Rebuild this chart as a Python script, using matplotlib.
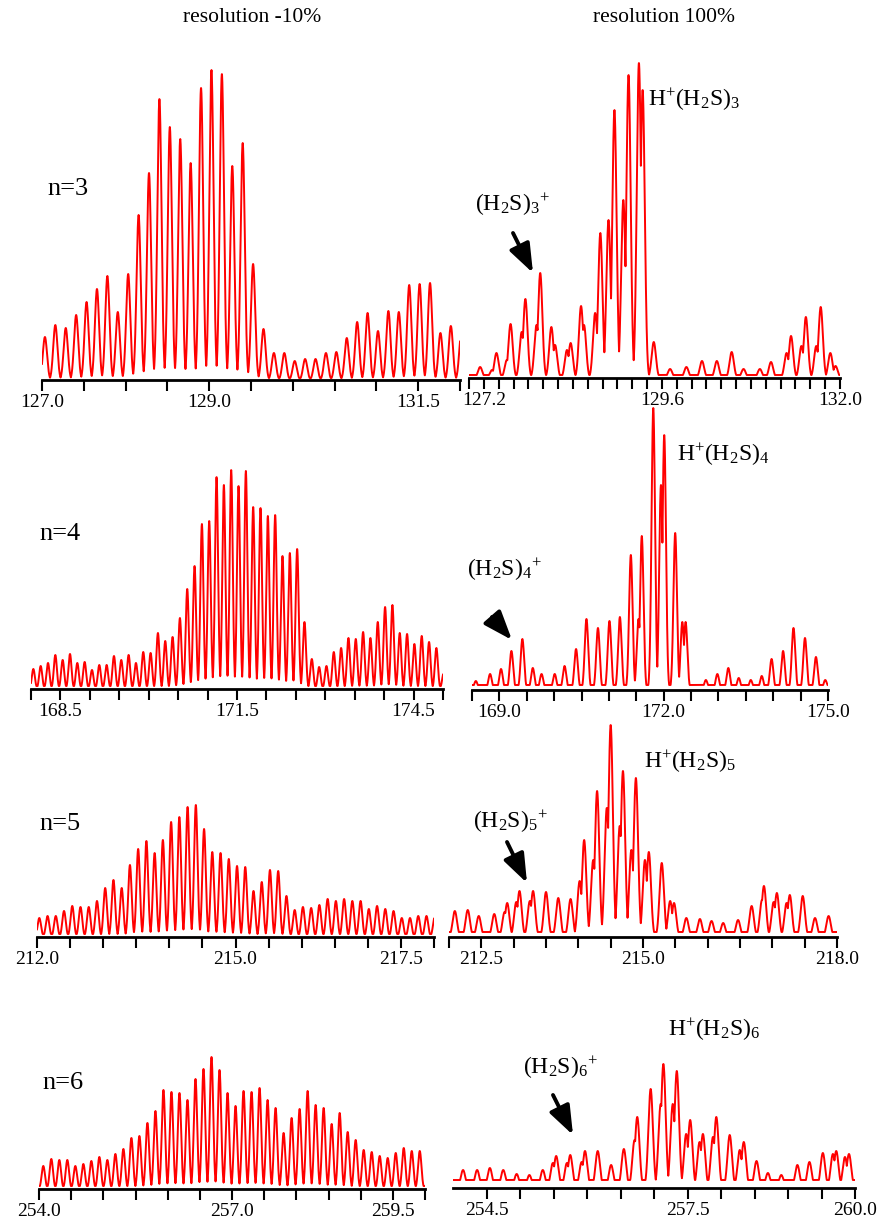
import matplotlib.pyplot as plt
from matplotlib.patches import FancyArrowPatch
import numpy as np

plt.rcParams['font.family'] = ['Liberation Serif', 'DejaVu Serif']
plt.rcParams['mathtext.fontset'] = 'custom'
plt.rcParams['mathtext.rm'] = 'Liberation Serif'
plt.rcParams['mathtext.it'] = 'Liberation Serif:italic'

W, H = 883, 1226

# low resolution (-10%): evenly spaced peaks, first m/z and spacing, heights
low_step = 0.1245
low3_start = 127.035
low3_h = [43, 55, 52, 65, 78, 91, 104, 68, 106, 165, 207, 281, 253, 241, 217, 292, 310, 306,
          214, 237, 116, 51, 27, 27, 19, 21, 21, 27, 28, 42, 58, 67, 49, 69, 68, 95, 96, 97,
          47, 54, 46]
low4_start = 168.04
low4_h = [20, 23, 26, 34, 29, 35, 26, 27, 19, 24, 24, 33, 29, 34, 26, 37, 36, 56, 48, 52, 71,
          100, 123, 165, 168, 212, 204, 219, 203, 218, 182, 181, 173, 174, 133, 136, 140, 67,
          30, 22, 23, 37, 41, 51, 50, 57, 51, 67, 82, 84, 56, 55, 45, 53, 47, 41, 16]
low5_start = 212.035
low5_h = [19, 21, 21, 26, 31, 30, 30, 36, 49, 57, 49, 72, 88, 96, 84, 97, 115, 120, 130, 132,
          108, 85, 84, 78, 71, 70, 46, 55, 67, 66, 41, 27, 30, 29, 32, 38, 36, 38, 36, 36, 28,
          31, 28, 26, 19, 19, 21, 21, 20]
low6_start = 254.067
low6_h = [23, 30, 29, 29, 23, 25, 28, 32, 29, 35, 40, 51, 53, 66, 78, 99, 97, 96, 89, 110, 120,
          132, 119, 96, 83, 98, 97, 101, 89, 81, 56, 71, 80, 98, 84, 81, 65, 76, 57, 49, 39, 37,
          33, 31, 36, 41, 38, 38]

# high resolution (100%): peak m/z and heights
high3_mz = [127.15, 127.31, 127.37, 127.51, 127.56, 127.71, 127.76, 127.91, 127.96, 128.11,
            128.16, 128.32, 128.37, 128.51, 128.55, 128.70, 128.77, 128.88, 128.96, 129.08,
            129.15, 129.29, 129.34, 129.49, 129.71, 129.93, 130.14, 130.34, 130.54, 130.70,
            130.92, 131.07, 131.28, 131.34, 131.48, 131.54, 131.68, 131.74, 131.87, 131.94]
high3_h = [11, 8, 25, 18, 54, 46, 79, 53, 105, 51, 33, 28, 35, 72, 53, 65, 145, 158, 268, 178,
           303, 315, 288, 36, 9, 11, 17, 17, 26, 9, 9, 16, 25, 42, 32, 61, 32, 71, 25, 12]
high4_mz = [168.57, 168.83, 169.03, 169.22, 169.42, 169.61, 169.77, 170.01, 170.19, 170.40,
            170.59, 170.80, 171.01, 171.20, 171.40, 171.54, 171.60, 171.81, 171.95, 172.01,
            172.21, 172.34, 172.40, 172.77, 172.98, 173.18, 173.37, 173.59, 173.79, 173.97,
            174.18, 174.37, 174.58, 174.78, 174.95]
high4_h = [9, 16, 21, 39, 51, 22, 16, 16, 24, 41, 71, 62, 69, 73, 135, 71, 154, 282, 205, 255,
           157, 68, 68, 10, 16, 22, 12, 10, 14, 31, 39, 62, 52, 33, 10]
high5_mz = [212.09, 212.29, 212.46, 212.70, 212.86, 212.90, 213.04, 213.09, 213.25, 213.30,
            213.50, 213.69, 213.88, 214.02, 214.09, 214.23, 214.29, 214.44, 214.50, 214.64,
            214.69, 214.82, 214.89, 215.03, 215.09, 215.29, 215.42, 215.48, 215.67, 215.88,
            216.06, 216.24, 216.47, 216.68, 216.84, 216.87, 217.02, 217.07, 217.22, 217.27,
            217.47, 217.66, 217.87]
high5_h = [26, 27, 21, 23, 25, 34, 35, 46, 36, 46, 45, 39, 38, 56, 97, 77, 146, 129, 212, 111,
           166, 87, 159, 77, 85, 74, 36, 34, 19, 18, 16, 14, 17, 31, 37, 51, 35, 44, 34, 42, 41,
           19, 21]
high6_mz = [254.15, 254.36, 254.55, 254.75, 254.95, 255.14, 255.34, 255.49, 255.54, 255.70,
            255.75, 255.92, 255.97, 256.16, 256.36, 256.55, 256.71, 256.75, 256.95, 257.10,
            257.14, 257.28, 257.34, 257.48, 257.54, 257.68, 257.73, 257.88, 257.93, 258.13,
            258.28, 258.34, 258.53, 258.70, 258.90, 259.14, 259.32, 259.52, 259.67, 259.72,
            259.85, 259.91]
high6_h = [18, 18, 20, 18, 14, 13, 18, 25, 32, 25, 33, 26, 37, 37, 23, 39, 48, 71, 99, 84, 124,
           84, 117, 54, 68, 46, 54, 51, 71, 53, 38, 46, 27, 15, 13, 23, 26, 35, 34, 37, 31, 34]

n_labels = ['n=3', 'n=4', 'n=5', 'n=6']
titles = ['resolution -10%', 'resolution 100%']

fig = plt.figure(figsize=(W / 100, H / 100), dpi=100)


def fpos(x, y):
    return x / W, 1 - y / H


def panel(x0, x1, ybase, lim, ticks, labels, mz, h, base, width):
    ax = fig.add_axes([x0 / W, 1 - ybase / H, (x1 - x0) / W, 330 / H])
    ax.patch.set_alpha(0)
    x = np.linspace(lim[0], lim[1], 3000)
    y = np.full_like(x, base)
    for m, v in zip(mz, h):
        y = np.maximum(y, v * np.exp(-0.5 * ((x - m) / width) ** 2))
    ax.plot(x, y, color='red', lw=1.4)
    ax.set_xlim(lim)
    ax.set_ylim(0, 330)
    for s in ['top', 'left', 'right']:
        ax.spines[s].set_visible(False)
    ax.spines['bottom'].set_linewidth(2)
    ax.set_yticks([])
    ax.set_xticks(ticks)
    ax.set_xticklabels(['%.1f' % t if any(abs(t - l) < 1e-6 for l in labels) else '' for t in ticks])
    ax.tick_params(axis='x', direction='out', length=8, width=1.5, labelsize=14, pad=2)
    return ax


def low_mz(start, h):
    return [start + i * low_step for i in range(len(h))]


panel(42, 460, 380, (127.0, 132.0), np.arange(127.0, 132.01, 0.5), [127.0, 129.0, 131.5],
      low_mz(low3_start, low3_h), low3_h, 2, 0.025)
panel(469, 840, 378, (127.0, 132.0), np.arange(127.0, 132.01, 0.2), [127.2, 129.6, 132.0],
      high3_mz, high3_h, 3, 0.029)
panel(31, 443, 689, (168.0, 175.0), np.arange(168.0, 175.01, 0.5), [168.5, 171.5, 174.5],
      low_mz(low4_start, low4_h), low4_h, 3, 0.026)
panel(472, 828, 690, (168.5, 175.0), np.arange(168.5, 175.01, 0.5), [169.0, 172.0, 175.0],
      high4_mz, high4_h, 5, 0.032)
panel(37, 434, 937, (212.0, 218.0), np.arange(212.0, 218.01, 0.5), [212.0, 215.0, 217.5],
      low_mz(low5_start, low5_h), low5_h, 3, 0.026)
panel(449, 837, 937, (212.0, 218.0), np.arange(212.0, 218.01, 0.5), [212.5, 215.0, 218.0],
      high5_mz, high5_h, 5, 0.034)
panel(39, 425, 1189, (254.0, 260.0), np.arange(254.0, 260.01, 0.5), [254.0, 257.0, 259.5],
      low_mz(low6_start, low6_h), low6_h, 3, 0.026)
panel(453, 855, 1188, (254.0, 260.0), np.arange(254.5, 260.01, 0.5), [254.5, 257.5, 260.0],
      high6_mz, high6_h, 8, 0.034)

# titles and labels
fig.text(*fpos(252, 18), titles[0], fontsize=15.5, ha='center', va='center')
fig.text(*fpos(664, 18), titles[1], fontsize=15.5, ha='center', va='center')
for lab, (x, y) in zip(n_labels, [(68, 189), (60, 534), (60, 824), (63, 1083)]):
    fig.text(*fpos(x, y), lab, fontsize=19, ha='center', va='center')

for i, (x, y) in zip([3, 4, 5, 6], [(648, 100), (677, 455), (644, 762), (668, 1030)]):
    fig.text(*fpos(x, y), r'H$^{+}$(H$_2$S)$_%d$' % i, fontsize=17, ha='left', va='center')
for i, (x, y) in zip([3, 4, 5, 6], [(475, 205), (467, 570), (473, 822), (523, 1068)]):
    fig.text(*fpos(x, y), r'(H$_2$S)$_%d$$^{+}$' % i, fontsize=17, ha='left', va='center')

arrows = [((513, 233), (533, 273)), ((492, 617), (512, 640)),
          ((507, 842), (527, 883)), ((553, 1095), (573, 1135))]
for a, b in arrows:
    fig.add_artist(FancyArrowPatch(fpos(*a), fpos(*b), transform=fig.transFigure,
                                   arrowstyle='-|>,head_length=0.8,head_width=0.3',
                                   mutation_scale=22, lw=2.8, color='black',
                                   shrinkA=0, shrinkB=0))

fig.savefig('out.png', dpi=100)
